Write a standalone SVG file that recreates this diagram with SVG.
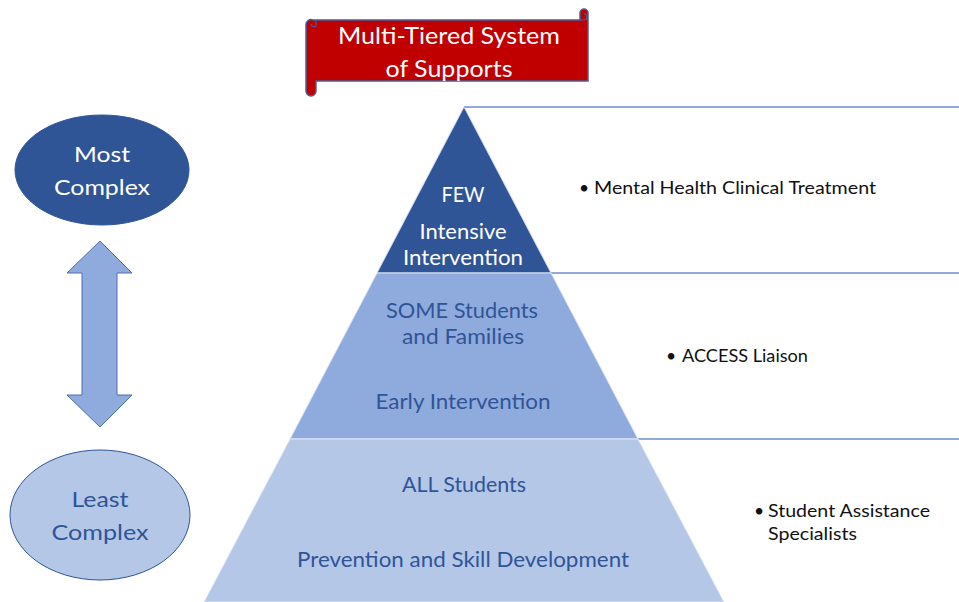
<svg xmlns="http://www.w3.org/2000/svg" width="959" height="602" viewBox="0 0 959 602">
<style>
text{font-family:Lato,"Open Sans","Liberation Sans",sans-serif;text-anchor:middle}
.w{fill:#ffffff}
.b{fill:#2F5597}
.k{fill:#111111;text-anchor:start;font-size:17.5px}
.box{fill:none;stroke:#6F8FCB;stroke-width:1.3}
</style>
<rect width="959" height="602" fill="#ffffff"/>
<g id="boxes">
<path class="box" d="M464,107 H959 M551,273 H959 M638,439 H959"/>
</g>
<g id="banner">
<path d="M313,20 H580 V13 a4,4 0 0 1 8,0 V81 H316 V91 a5,5 0 0 1 -10,0 V25 a5,5 0 0 1 7,-5 Z" fill="#C00000" stroke="#4A5E9A" stroke-width="1.5"/>
<path d="M580,20 h4 a3,3 0 0 0 0,-6" fill="none" stroke="#4A5E9A" stroke-width="1.2"/>
<path d="M316,20 v6 a3,3 0 0 1 -5,-2" fill="none" stroke="#4A5E9A" stroke-width="1.2"/>
<text class="w" x="449" y="44" font-size="23" textLength="222" lengthAdjust="spacingAndGlyphs">Multi-Tiered System</text>
<text class="w" x="449" y="77" font-size="23" textLength="127" lengthAdjust="spacingAndGlyphs">of Supports</text>
</g>
<g id="most">
<ellipse cx="102" cy="170" rx="87" ry="55" fill="#2F5597" stroke="#2F5597"/>
<text class="w" x="102" y="162" font-size="22" textLength="56" lengthAdjust="spacingAndGlyphs">Most</text>
<text class="w" x="102" y="195" font-size="22" textLength="96" lengthAdjust="spacingAndGlyphs">Complex</text>
</g>
<g id="least">
<ellipse cx="100" cy="515" rx="90" ry="65" fill="#B4C7E7" stroke="#2F5597" stroke-width="1"/>
<text class="b" x="100" y="507" font-size="22" textLength="57" lengthAdjust="spacingAndGlyphs">Least</text>
<text class="b" x="100" y="540" font-size="22" textLength="97" lengthAdjust="spacingAndGlyphs">Complex</text>
</g>
<g id="connectors">
<path d="M100,241 L132,273 H117 V395 H132 L100,427 L67,395 H82 V273 H67 Z" fill="#8FAADC" stroke="#4A6FB5" stroke-width="1"/>
</g>
<g id="tier1">
<path d="M464,107 L551,273 H377 Z" fill="#2F5597" stroke="#C9D6EE" stroke-width="1"/>
<text class="w" x="463" y="202" font-size="21" textLength="43" lengthAdjust="spacingAndGlyphs">FEW</text>
<text class="w" x="463" y="239" font-size="21" textLength="87" lengthAdjust="spacingAndGlyphs">Intensive</text>
<text class="w" x="463" y="265" font-size="21" textLength="120" lengthAdjust="spacingAndGlyphs">Intervention</text>
</g>
<g id="tier2">
<path d="M377,273 H551 L638,439 H290 Z" fill="#8FAADC" stroke="#DDE5F3" stroke-width="1"/>
<text class="b" x="462" y="318" font-size="21" textLength="152" lengthAdjust="spacingAndGlyphs">SOME Students</text>
<text class="b" x="463" y="344" font-size="21" textLength="122" lengthAdjust="spacingAndGlyphs">and Families</text>
<text class="b" x="463" y="409" font-size="21" textLength="175" lengthAdjust="spacingAndGlyphs">Early Intervention</text>
</g>
<g id="tier3">
<path d="M290,439 H638 L724,602 H204 Z" fill="#B4C7E7" stroke="#E4EAF6" stroke-width="1"/>
<text class="b" x="464" y="492" font-size="21" textLength="124" lengthAdjust="spacingAndGlyphs">ALL Students</text>
<text class="b" x="463" y="567" font-size="21" textLength="332" lengthAdjust="spacingAndGlyphs">Prevention and Skill Development</text>
</g>
<g id="labels">
<text class="k" x="579" y="194">•</text>
<text class="k" x="594" y="194" textLength="282" lengthAdjust="spacingAndGlyphs">Mental Health Clinical Treatment</text>
<text class="k" x="666" y="362">•</text>
<text class="k" x="682" y="362" textLength="126" lengthAdjust="spacingAndGlyphs">ACCESS Liaison</text>
<text class="k" x="754" y="517">•</text>
<text class="k" x="768" y="517" textLength="162" lengthAdjust="spacingAndGlyphs">Student Assistance</text>
<text class="k" x="768" y="540" textLength="89" lengthAdjust="spacingAndGlyphs">Specialists</text>
</g>
</svg>
